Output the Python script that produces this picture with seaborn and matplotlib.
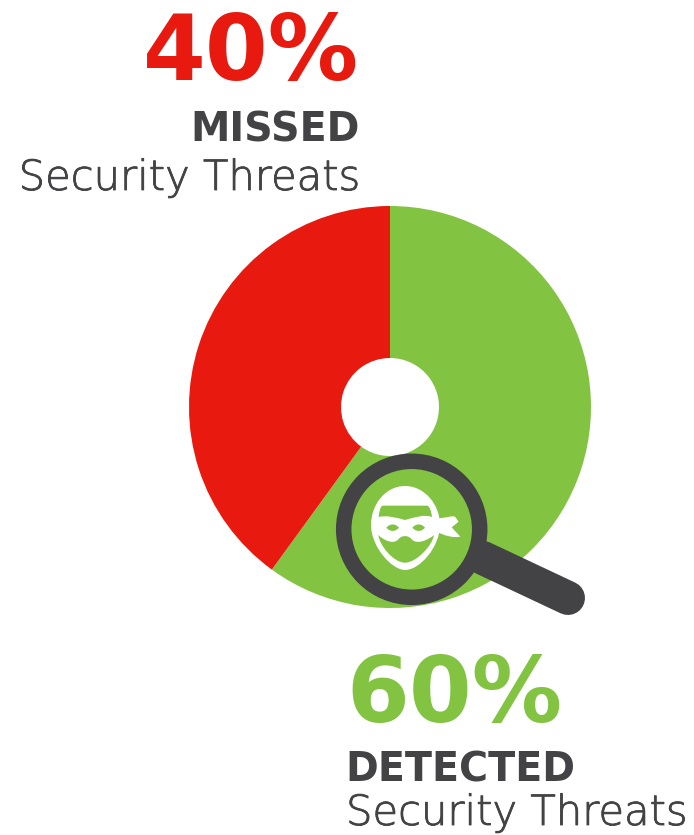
import matplotlib
matplotlib.use("Agg")
import matplotlib.pyplot as plt
import matplotlib.patheffects as pe
import seaborn as sns
from matplotlib.path import Path
from matplotlib.patches import PathPatch, Circle

sns.set_theme(style="white")
plt.rcParams['font.family'] = ['DejaVu Sans']

categories = ["Detected", "Missed"]
shares = [60, 40]
pct_labels = ["60%", "40%"]
headings = ["DETECTED", "MISSED"]
subtitle = "Security Threats"

RED, GREEN, DARK = "#E8190E", "#82C341", "#434345"
W, H = 694, 835

fig = plt.figure(figsize=(W / 100, H / 100), dpi=100, facecolor="white")
ax = fig.add_axes([0, 0, 1, 1])


def Y(py):
    return H - py


def zoomed(x, y):
    return 320 + x / 3, Y(440 + y / 3)


def shape(spec, color, z):
    verts, codes = [], []
    for kind, pts in spec:
        code = {"M": Path.MOVETO, "L": Path.LINETO, "C": Path.CURVE4}[kind]
        for p in pts:
            verts.append(zoomed(*p))
            codes.append(code)
    verts.append(verts[0])
    codes.append(Path.CLOSEPOLY)
    ax.add_patch(PathPatch(Path(verts, codes), fc=color, ec="none", lw=0, zorder=z))


ax.pie(shares, colors=[GREEN, RED], startangle=90, counterclock=False,
       center=(390, Y(407)), radius=201, wedgeprops=dict(width=201 - 49, lw=0))

ax.set_xlim(0, W)
ax.set_ylim(0, H)
ax.set_aspect("equal")
ax.axis("off")

# Magnifier
ax.plot([483, 568], [Y(558), Y(598)], color=DARK, lw=34 * 0.72, solid_capstyle="round", zorder=3)
ax.add_patch(Circle((411.7, Y(529.3)), 68, fc=GREEN, ec=DARK, lw=15.5 * 0.72, zorder=4))

# Masked face: egg outline, bandana tails, then the green cut-outs
shape([("M", [(255, 138)]),
       ("C", [(195, 138), (153, 195), (153, 255)]),
       ("C", [(153, 320), (215, 390), (255, 390)]),
       ("C", [(300, 390), (360, 320), (360, 255)]),
       ("C", [(360, 195), (315, 138), (255, 138)])], "white", 5)
shape([("M", [(350, 235)]),
       ("C", [(375, 235), (395, 226), (405, 230)]),
       ("L", [(416, 245), (395, 262), (421, 290)]),
       ("C", [(400, 294), (375, 288), (350, 275)])], "white", 5)
shape([("M", [(188, 197), (322, 197)]),
       ("C", [(330, 200), (334, 215), (336, 231)]),
       ("C", [(310, 222), (285, 232), (255, 240)]),
       ("C", [(225, 232), (200, 225), (176, 231)]),
       ("C", [(178, 215), (180, 200), (188, 197)])], GREEN, 6)
shape([("M", [(175, 285)]),
       ("C", [(190, 300), (220, 315), (235, 298)]),
       ("C", [(245, 285), (265, 285), (275, 298)]),
       ("C", [(290, 315), (325, 300), (342, 285)]),
       ("C", [(338, 315), (290, 368), (255, 368)]),
       ("C", [(220, 368), (178, 315), (175, 285)])], GREEN, 6)
for cx in (218, 296):
    shape([("M", [(cx - 19, 263)]),
           ("C", [(cx - 8, 250), (cx + 8, 250), (cx + 19, 263)]),
           ("C", [(cx + 8, 276), (cx - 8, 276), (cx - 19, 263)])], GREEN, 6)

# Text
thicker = [pe.withStroke(linewidth=0.6, foreground=DARK)]
BIG = dict(family="DejaVu Sans", fontweight=700, fontsize=65, va="baseline")
HEAD = dict(family="DejaVu Sans", fontweight=700, fontsize=28.5, color=DARK, va="baseline")
SUB = dict(family="DejaVu Sans", fontweight=200, fontsize=30, color=DARK, va="baseline",
           path_effects=thicker)
ax.text(359, Y(80), pct_labels[1], color=RED, ha="right", **BIG)
ax.text(360, Y(141), headings[1], ha="right", **HEAD)
ax.text(360, Y(190), subtitle, ha="right", **SUB)
ax.text(346, Y(722), pct_labels[0], color=GREEN, ha="left", **BIG)
ax.text(345, Y(782), headings[0], ha="left", **HEAD)
ax.text(346, Y(825), subtitle, ha="left", **SUB)

fig.savefig("out.png", dpi=100, facecolor="white")
